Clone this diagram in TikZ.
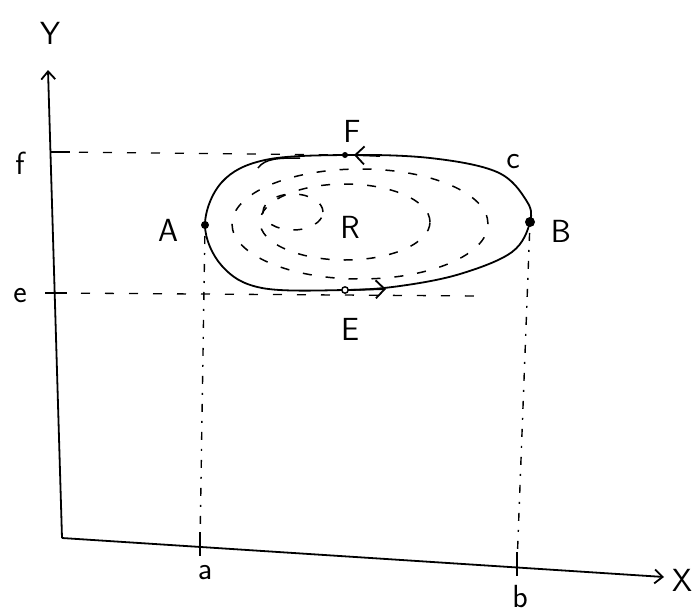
\documentclass[tikz,border=0pt]{standalone}
\usetikzlibrary{arrows.meta}
\begin{document}
\begin{tikzpicture}[x=1pt,y=-1pt,
  axis/.style={line width=1.8pt,-{Straight Barb[length=8pt,width=14pt]}},
  guide/.style={line width=1.3pt,dash pattern=on 9pt off 15pt},
  dotguide/.style={line width=1.4pt,dash pattern=on 2pt off 9pt on 8pt off 9pt},
  inner/.style={line width=1.5pt,dash pattern=on 9pt off 14pt},
  curve/.style={line width=1.8pt},
  lbl/.style={font=\sffamily\fontsize{32}{36}\selectfont,inner sep=1pt},
  tick/.style={line width=1.8pt},
  flowmark/.style={line width=1.8pt,-{Straight Barb[length=9pt,width=18pt]}}]
\useasboundingbox (0,0) rectangle (693,613);
% axes
\coordinate (O) at (62,538);
\coordinate (Ytop) at (48,70);
\coordinate (Xend) at (664,577);
\draw[axis] (O) -- (Ytop);
\draw[axis] (O) -- (Xend);
\node[lbl] (Ylab) at (50,33) {Y};
\node[lbl] (Xlab) at (682,580) {X};
% ticks on y axis
\coordinate (fy) at (55,152);
\coordinate (ey) at (57,293);
\draw[tick] (50,152) -- (70,152);
\draw[tick] (45,293) -- (67,293);
\node[lbl] (flab) at (20,163) {f};
\node[lbl] (elab) at (20,296) {e};
% closed curve
\coordinate (A) at (205,225);
\coordinate (B) at (530,222);
\coordinate (F) at (345,155);
\coordinate (E) at (345,290);
\draw[curve] plot[smooth cycle, tension=0.6] coordinates {
 (205,225) (222,182) (265,160) (345,155) (430,158) (497,172) (526,200)
 (530,222) (512,252) (460,274) (400,286) (345,290) (262,288) (222,266)};
% arrows on curve
\draw[flowmark] (380,156) -- (354,155);
\draw[flowmark] (350,290) -- (386,289);
\fill (A) circle (4pt);
\fill (B) circle (5pt);
\fill (F) circle (3pt);
\draw[line width=1.4pt,fill=white] (E) circle (3.2pt);
\draw[line width=1.5pt] (258,168) .. controls (265,158) and (280,158) .. (300,158);
% guides
\draw[guide] (fy) -- (F);
\draw[guide] (ey) -- (480,296);
\coordinate (a) at (200,545);
\coordinate (b) at (517,565);
\draw[dotguide] (A) -- (a);
\draw[dotguide] (B) -- (b);
\draw[tick] (200,532) -- (200,556);
\draw[tick] (517,552) -- (517,576);
\node[lbl] (alab) at (205,573) {a};
\node[lbl] (blab) at (520,597) {b};
% labels
\node[lbl] (Alab) at (168,230) {A};
\node[lbl] (Blab) at (561,231) {B};
\node[lbl] (Flab) at (352,131) {F};
\node[lbl] (Elab) at (350,329) {E};
\node[lbl] (Rlab) at (350,227) {R};
\node[lbl] (clab) at (513,162) {c};
% inner dashed loops
\draw[inner] (360,224) ellipse (128pt and 55pt);
\draw[inner] (345,222) ellipse (85pt and 38pt);
\draw[inner] (293,212) ellipse (30pt and 18pt);
\end{tikzpicture}
\end{document}
